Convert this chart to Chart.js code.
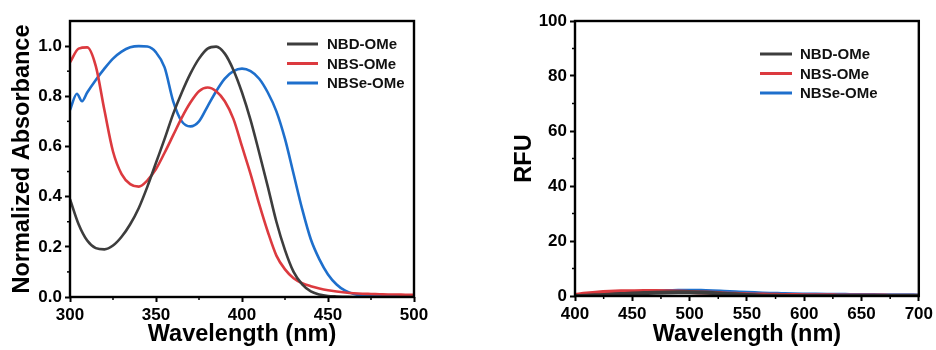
<!DOCTYPE html>
<html>
<head>
<meta charset="utf-8">
<script src="https://cdn.jsdelivr.net/npm/chart.js@4.4.1/dist/chart.umd.min.js"></script>
<style>
  html, body { margin: 0; padding: 0; background: #fff; }
  .wrap { display: flex; width: 936px; height: 350px; }
  .panel { width: 468px; height: 350px; }
</style>
</head>
<body>
<div class="wrap">
  <div class="panel"><canvas id="absChart" width="468" height="350"></canvas></div>
  <div class="panel"><canvas id="rfuChart" width="468" height="350"></canvas></div>
</div>
<script>
// Absorbance panel (normalized)
const absWavelength = [300,305,310,315,320,325,330,335,340,345,350,355,360,365,370,375,380,385,390,395,400,
  405,410,415,420,425,430,435,440,445,450,455,460,465,470,475,480,485,490,495,500];
const absNBD = [0.39,0.29,0.225,0.195,0.19,0.205,0.24,0.29,0.355,0.44,0.535,0.63,0.73,0.815,0.89,0.95,0.99,0.998,0.97,0.905,0.815,
  0.705,0.575,0.44,0.30,0.187,0.10,0.05,0.022,0.01,0.004,0.002,0.001,0,0,0,0,0,0,0,0];
const absNBS = [0.935,0.99,0.995,0.92,0.745,0.58,0.49,0.45,0.44,0.465,0.51,0.575,0.645,0.715,0.775,0.82,0.835,0.82,0.78,0.71,0.60,
  0.49,0.37,0.26,0.165,0.11,0.075,0.055,0.043,0.034,0.027,0.022,0.018,0.015,0.013,0.012,0.011,0.01,0.01,0.009,0.009];
const absSeWavelength = [300,304,307,310,315,320,325,330,335,340,345,350,355,360,365,370,375,380,385,390,395,400,
  405,410,415,420,425,430,435,440,445,450,455,460,465,470,475,480,485,490,495,500];
const absNBSe = [0.745,0.81,0.78,0.815,0.865,0.91,0.95,0.978,0.995,1.0,0.998,0.975,0.915,0.78,0.70,0.68,0.70,0.76,0.82,0.87,0.90,0.91,
  0.90,0.87,0.815,0.74,0.63,0.49,0.35,0.23,0.15,0.09,0.05,0.025,0.012,0.007,0.005,0.004,0.003,0.003,0.003,0.003];

// Fluorescence panel
const rfuWavelength = [400,410,420,430,440,450,460,470,480,490,500,510,520,530,540,550,560,570,580,590,600,
  610,620,630,640,650,660,670,680,690,700];
const rfuNBD = [0,0.1,0.3,0.5,0.7,0.9,1.05,1.2,1.3,1.35,1.35,1.25,1.1,0.85,0.6,0.4,0.2,0.1,0.05,0.02,0,
  0,0,0,0,0,0,0,0,0,0];
const rfuNBS = [0.4,0.9,1.3,1.55,1.7,1.75,1.78,1.78,1.72,1.6,1.45,1.3,1.15,0.95,0.8,0.65,0.55,0.45,0.4,0.35,0.3,
  0.27,0.25,0.22,0.2,0.18,0.16,0.14,0.12,0.1,0.1];
const rfuNBSe = [0,0.05,0.2,0.45,0.75,1.05,1.35,1.6,1.8,1.92,1.95,1.9,1.75,1.55,1.35,1.15,1.0,0.85,0.75,0.65,0.58,
  0.52,0.47,0.43,0.4,0.37,0.34,0.31,0.28,0.25,0.22];

const seriesNames = ['NBD-OMe', 'NBS-OMe', 'NBSe-OMe'];
const seriesColors = ['#3d3d3d', '#dc3a3f', '#1e6fcc'];

const FONT = 'Liberation Sans, Arial, Helvetica, sans-serif';

function pts(xs, ys) {
  return xs.map((x, i) => ({ x, y: ys[i] }));
}

// box around the plot, outward minor ticks, legend inside the plot area
const framePlugin = {
  id: 'frame',
  afterDatasetsDraw(chart, args, opts) {
    const { ctx, chartArea: a } = chart;
    ctx.save();
    ctx.strokeStyle = '#000';
    ctx.lineWidth = 1.5;
    ['x', 'y'].forEach(id => {
      const s = chart.scales[id];
      const step = s.ticks[1].value - s.ticks[0].value;
      for (let v = s.ticks[0].value + step / 2; v < s.max - 1e-9; v += step) {
        const p = s.getPixelForValue(v);
        ctx.beginPath();
        if (id === 'x') { ctx.moveTo(p, a.bottom); ctx.lineTo(p, a.bottom + 3); }
        else { ctx.moveTo(a.left, p); ctx.lineTo(a.left - 3, p); }
        ctx.stroke();
      }
    });
    ctx.lineWidth = 2.4;
    ctx.strokeRect(a.left, a.top, a.width, a.height);

    ctx.font = 'bold 15px ' + FONT;
    ctx.textBaseline = 'middle';
    chart.data.datasets.forEach((ds, i) => {
      const y = a.top + opts.y + i * opts.rowGap;
      const x = a.left + opts.x;
      ctx.strokeStyle = ds.borderColor;
      ctx.lineWidth = 3;
      ctx.beginPath();
      ctx.moveTo(x, y);
      ctx.lineTo(x + opts.lineLen, y);
      ctx.stroke();
      ctx.fillStyle = '#111';
      ctx.fillText(ds.label, x + opts.lineLen + opts.textGap, y + 1);
    });
    ctx.restore();
  }
};

function makeChart(id, sets, lw, sc) {
  const datasets = sets.map((data, i) => ({
    label: seriesNames[i],
    data,
    borderColor: seriesColors[i],
    borderWidth: lw,
    pointRadius: 0,
    fill: false,
    cubicInterpolationMode: 'monotone'
  }));
  const tickFont = { family: FONT, weight: 'bold', size: 17 };
  const titleFont = { family: FONT, weight: 'bold', size: 23.5 };
  const grid = { display: true, drawOnChartArea: false, drawTicks: true, tickLength: 5, tickWidth: 2, tickColor: '#000' };
  return new Chart(document.getElementById(id), {
    type: 'line',
    data: { datasets },
    plugins: [framePlugin],
    options: {
      responsive: false,
      animation: false,
      devicePixelRatio: 1,
      layout: { padding: { top: 21, right: sc.padRight, left: 0, bottom: 0 } },
      plugins: {
        legend: { display: false },
        tooltip: { enabled: false },
        frame: sc.legend
      },
      scales: {
        x: {
          type: 'linear',
          min: sc.xMin, max: sc.xMax,
          afterFit: s => { s.height = sc.xHeight; },
          border: { display: false },
          grid,
          ticks: { stepSize: sc.xStep, font: tickFont, color: '#000', padding: 3, maxRotation: 0 },
          title: { display: true, text: 'Wavelength (nm)', font: titleFont, color: '#000', padding: { top: 0, bottom: 1 } }
        },
        y: {
          min: sc.yMin, max: sc.yMax,
          afterFit: s => { s.width = sc.yWidth; },
          border: { display: false },
          grid,
          ticks: { stepSize: sc.yStep, includeBounds: false, font: tickFont, color: '#000', padding: 3, callback: sc.yFmt },
          title: { display: true, text: sc.yTitle, font: titleFont, color: '#000', padding: { top: sc.yTitlePad, bottom: 0 } }
        }
      }
    }
  });
}

makeChart('absChart',
  [pts(absWavelength, absNBD), pts(absWavelength, absNBS), pts(absSeWavelength, absNBSe)],
  2.6,
  {
    xMin: 300, xMax: 500, xStep: 50, yMin: 0, yMax: 1.1, yStep: 0.2,
    yFmt: v => v.toFixed(1), yTitle: 'Normalized Absorbance', yTitlePad: 8,
    yWidth: 70, xHeight: 53, padRight: 54,
    legend: { x: 217, y: 23, rowGap: 19.5, lineLen: 31, textGap: 9 }
  });

makeChart('rfuChart',
  [pts(rfuWavelength, rfuNBD), pts(rfuWavelength, rfuNBS), pts(rfuWavelength, rfuNBSe)],
  4,
  {
    xMin: 400, xMax: 700, xStep: 50, yMin: 0, yMax: 100, yStep: 20,
    yFmt: v => v, yTitle: 'RFU', yTitlePad: 42,
    yWidth: 107, xHeight: 54, padRight: 17,
    legend: { x: 185, y: 33, rowGap: 19.5, lineLen: 32, textGap: 8 }
  });
</script>
</body>
</html>
